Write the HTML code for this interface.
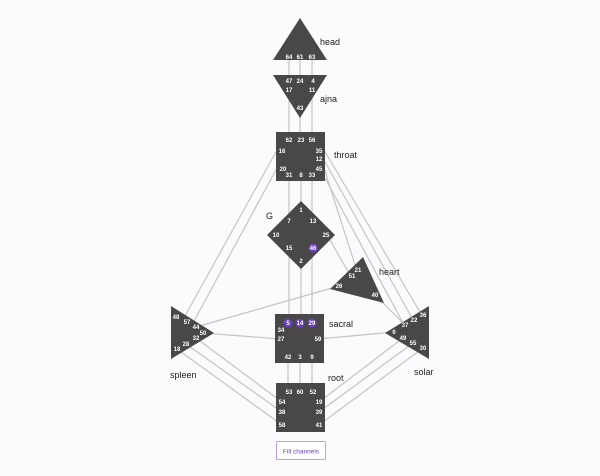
<!DOCTYPE html>
<html><head><meta charset="utf-8"><style>
html,body{margin:0;padding:0;background:#fbfafd;}
svg{display:block;font-family:"Liberation Sans",sans-serif;}
.g{font-size:6px;font-weight:bold;fill:#fff;text-anchor:middle;}
.l{font-size:9px;fill:#222;}
.c{stroke:#c4c4c4;stroke-width:1.2;fill:none;}
.s{fill:#4a4748;}
</style></head><body>
<svg width="600" height="476" viewBox="0 0 600 476">
<g class="c">
<line x1="289" y1="58" x2="289" y2="80"/><line x1="300" y1="58" x2="300" y2="80"/><line x1="312" y1="58" x2="312" y2="80"/>
<line x1="289" y1="90" x2="289" y2="140"/><line x1="300" y1="108" x2="300" y2="140"/><line x1="312" y1="90" x2="312" y2="140"/>
<line x1="289" y1="175" x2="289" y2="221"/><line x1="301" y1="175" x2="301" y2="210"/><line x1="312" y1="175" x2="312" y2="221"/>
<line x1="289" y1="248" x2="289" y2="323"/><line x1="301" y1="261" x2="301" y2="323"/><line x1="312" y1="248" x2="312" y2="323"/>
<line x1="288" y1="357" x2="288" y2="392"/><line x1="300" y1="357" x2="300" y2="392"/><line x1="312" y1="357" x2="312" y2="392"/>
<line x1="277" y1="150" x2="185" y2="316"/><line x1="277" y1="168" x2="193" y2="323"/>
<line x1="324" y1="150" x2="420" y2="312"/><line x1="324" y1="160" x2="412" y2="318"/><line x1="324" y1="168" x2="356" y2="268"/><line x1="324" y1="176" x2="403" y2="323"/>
<line x1="330" y1="240" x2="350" y2="275"/>
<line x1="339" y1="286" x2="196" y2="327"/>
<line x1="375" y1="295" x2="405" y2="325"/>
<line x1="203" y1="333" x2="281" y2="339"/><line x1="318" y1="339" x2="394" y2="332"/>
<line x1="196" y1="338" x2="282" y2="402"/><line x1="186" y1="344" x2="282" y2="412"/><line x1="177" y1="349" x2="282" y2="425"/>
<line x1="403" y1="338" x2="319" y2="402"/><line x1="413" y1="343" x2="319" y2="412"/><line x1="423" y1="348" x2="319" y2="425"/>
</g>
<polygon class="s" points="300,18 273,60 327,60"/>
<polygon class="s" points="273,75 327,75 300,118"/>
<rect class="s" x="276" y="132" width="49" height="49"/>
<polygon class="s" points="301,201 335,235 301,269 267,235"/>
<polygon class="s" points="363,257 330,289 384,303"/>
<polygon class="s" points="171,306 171,359 214,333"/>
<rect class="s" x="275" y="314" width="49" height="49"/>
<polygon class="s" points="429,306 429,359 385,333"/>
<rect class="s" x="276" y="383" width="49" height="49"/>
<g fill="#6a3fc0"><circle cx="313" cy="248" r="4.5"/><circle cx="288" cy="323" r="4.5"/><circle cx="300" cy="323" r="4.5"/><circle cx="312" cy="323" r="4.5"/></g>
<g class="g">
<text x="289" y="59">64</text><text x="300" y="59">61</text><text x="312" y="59">63</text>
<text x="289" y="83">47</text><text x="300" y="83">24</text><text x="313" y="83">4</text><text x="289" y="92">17</text><text x="312" y="92">11</text><text x="300" y="110">43</text>
<text x="289" y="142">62</text><text x="301" y="142">23</text><text x="312" y="142">56</text><text x="282" y="153">16</text><text x="319" y="153">35</text><text x="319" y="161">12</text><text x="283" y="171">20</text><text x="319" y="171">45</text><text x="289" y="177">31</text><text x="301" y="177">8</text><text x="312" y="177">33</text>
<text x="301" y="212">1</text><text x="289" y="223">7</text><text x="313" y="223">13</text><text x="276" y="237">10</text><text x="326" y="237">25</text><text x="289" y="250">15</text><text x="313" y="250">46</text><text x="301" y="263">2</text>
<text x="358" y="272">21</text><text x="352" y="278">51</text><text x="339" y="288">26</text><text x="375" y="297">40</text>
<text x="176" y="319">48</text><text x="187" y="324">57</text><text x="196" y="329">44</text><text x="203" y="335">50</text><text x="196" y="340">32</text><text x="186" y="346">28</text><text x="177" y="351">18</text>
<text x="288" y="325">5</text><text x="300" y="325">14</text><text x="312" y="325">29</text><text x="281" y="332">34</text><text x="281" y="341">27</text><text x="318" y="341">59</text><text x="288" y="359">42</text><text x="300" y="359">3</text><text x="312" y="359">9</text>
<text x="423" y="317">36</text><text x="414" y="322">22</text><text x="405" y="327">37</text><text x="394" y="334">6</text><text x="403" y="340">49</text><text x="413" y="345">55</text><text x="423" y="350">30</text>
<text x="289" y="394">53</text><text x="300" y="394">60</text><text x="313" y="394">52</text><text x="282" y="404">54</text><text x="319" y="404">19</text><text x="282" y="414">38</text><text x="319" y="414">39</text><text x="282" y="427">58</text><text x="319" y="427">41</text>
</g>
<g class="l">
<text x="320" y="45">head</text><text x="320" y="102">ajna</text><text x="334" y="158">throat</text><text x="266" y="219">G</text><text x="379" y="275">heart</text><text x="329" y="327">sacral</text><text x="170" y="378">spleen</text><text x="414" y="375">solar</text><text x="328" y="381">root</text>
</g>
<rect x="276.5" y="441.5" width="49" height="18" rx="1" fill="#fff" stroke="#b9a0e6"/>
<text x="301" y="453.5" font-size="6.5" fill="#6a3fc0" text-anchor="middle">Fill channels</text>
</svg>
</body></html>
